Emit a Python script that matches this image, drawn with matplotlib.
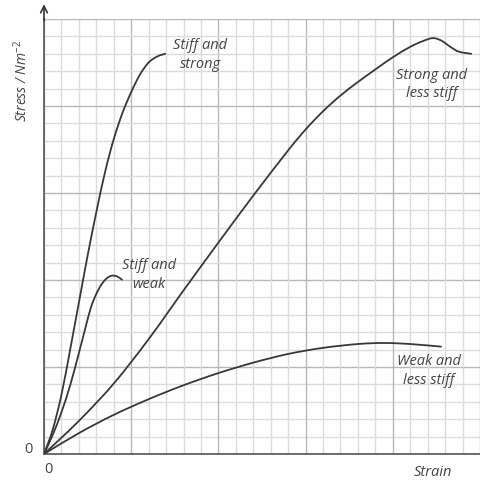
import matplotlib
matplotlib.use("Agg")
import matplotlib.pyplot as plt
import numpy as np
from matplotlib.path import Path
from matplotlib.patches import PathPatch

plt.rcParams['font.family'] = ['Open Sans', 'DejaVu Sans']
plt.rcParams['mathtext.fontset'] = 'custom'
plt.rcParams['mathtext.rm'] = 'Open Sans'
plt.rcParams['mathtext.it'] = 'Open Sans:italic'

# curves, in grid squares (25 x 25 small squares)
stiff_strong_x = [0, 0.5, 1.0, 1.5, 2.0, 2.5, 3.0, 3.5, 4.0, 4.5, 5.0, 5.5, 6.0, 6.5, 6.95]
stiff_strong_y = [0, 1.4, 3.4, 6.0, 8.7, 11.4, 13.9, 16.2, 18.1, 19.6, 20.8, 21.8, 22.5, 22.85, 23.0]

stiff_weak_x = [0, 0.5, 1.0, 1.5, 2.0, 2.4, 2.7, 3.0, 3.3, 3.6, 3.9, 4.2, 4.47]
stiff_weak_y = [0, 1.1, 2.4, 3.95, 5.8, 7.35, 8.45, 9.2, 9.75, 10.1, 10.25, 10.2, 10.02]

strong_less_x = [0, 2, 4, 6, 8, 10, 12, 14, 15, 16, 17, 18, 19, 20, 21, 21.7, 22.3,
                 22.8, 23.3, 23.8, 24.5]
strong_less_y = [0, 1.9, 4.05, 6.6, 9.4, 12.15, 14.85, 17.45, 18.65, 19.7, 20.6, 21.38,
                 22.1, 22.8, 23.4, 23.72, 23.9, 23.75, 23.4, 23.12, 23.0]

weak_less_x = [0, 2, 4, 6, 8, 10, 12, 14, 16, 18, 19.5, 21, 22.76]
weak_less_y = [0, 1.2, 2.25, 3.15, 3.95, 4.65, 5.25, 5.75, 6.1, 6.32, 6.38, 6.32, 6.17]

labels = ["Stiff and\nstrong", "Stiff and\nweak", "Strong and\nless stiff", "Weak and\nless stiff"]
label_pos = [(8.97, 22.99), (6.03, 10.34), (22.24, 21.29), (22.07, 4.83)]

text_col = '#454545'
line_col = '#383838'


def smooth_path(xs, ys):
    # catmull-rom through the read points, drawn as bezier segments
    p = np.column_stack([xs, ys]).astype(float)
    p = np.vstack([p[0], p, p[-1]])
    verts = [p[1]]
    codes = [Path.MOVETO]
    for i in range(1, len(p) - 2):
        c1 = p[i] + (p[i + 1] - p[i - 1]) / 6
        c2 = p[i + 1] - (p[i + 2] - p[i]) / 6
        verts += [c1, c2, p[i + 1]]
        codes += [Path.CURVE4] * 3
    return Path(verts, codes)


fig = plt.figure(figsize=(4.81, 4.81), dpi=100)
ax = fig.add_axes([44 / 481, 26 / 481, 436 / 481, 435 / 481])

# graph paper
for i in range(26):
    c = '#b8b8b8' if i % 5 == 0 else '#dcdcdc'
    ax.axvline(i, color=c, lw=1.0, zorder=0)
    ax.axhline(i, color=c, lw=1.0, zorder=0)

for xs, ys in [(stiff_strong_x, stiff_strong_y), (stiff_weak_x, stiff_weak_y),
               (strong_less_x, strong_less_y), (weak_less_x, weak_less_y)]:
    ax.add_patch(PathPatch(smooth_path(xs, ys), fill=False, edgecolor=line_col,
                           lw=1.3, capstyle='round', zorder=3))

for lab, (lx, ly) in zip(labels, label_pos):
    ax.text(lx, ly, lab, ha='center', va='center', style='italic', fontsize=10.5,
            color=text_col, linespacing=1.3, zorder=4)

ax.set_xlim(0, 25)
ax.set_ylim(0, 25)
for s in ['top', 'right']:
    ax.spines[s].set_visible(False)
for s in ['left', 'bottom']:
    ax.spines[s].set_color('#555555')
    ax.spines[s].set_linewidth(1.2)
ax.set_xticks([])
ax.set_yticks([])

# arrow on the stress axis
ax.annotate('', xy=(0, 25.85), xytext=(0, 24.9), annotation_clip=False,
            arrowprops=dict(arrowstyle='->', color='#333333', lw=1.2,
                            shrinkA=0, shrinkB=0, mutation_scale=12))

ax.text(-0.92, 0.29, '0', ha='center', va='center', fontsize=10.5, color=text_col, clip_on=False)
ax.text(0.23, -0.86, '0', ha='center', va='center', fontsize=10.5, color=text_col, clip_on=False)
ax.text(22.3, -1.03, 'Strain', ha='center', va='center', style='italic', fontsize=10.5,
        color=text_col, clip_on=False)
fig.text(22 / 481, 1 - 81 / 481, r'Stress / Nm$^{-2}$', rotation=90, ha='center', va='center',
         style='italic', fontsize=10, color=text_col)

fig.savefig('out.png', dpi=100)
